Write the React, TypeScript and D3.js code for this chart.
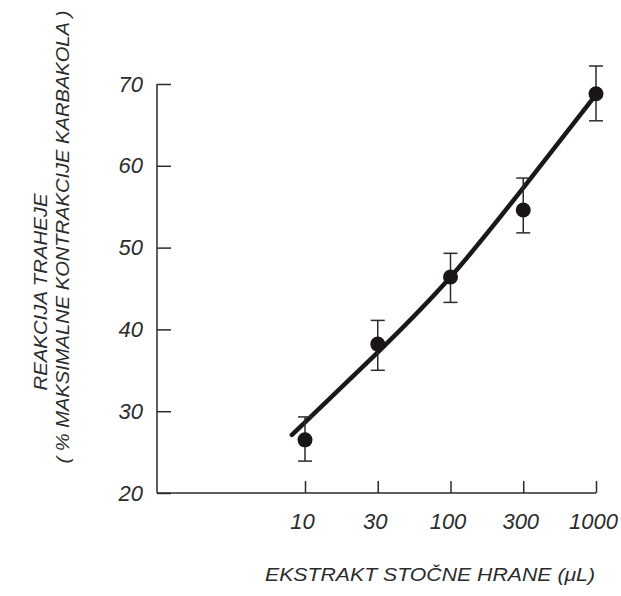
import React, { useEffect, useRef } from 'react';
import * as d3 from 'd3';

// doses on the (log-spaced) x axis, shown as evenly spaced categories
const doses = ['10', '30', '100', '300', '1000'];
const means = [26.5, 38.2, 46.4, 54.6, 68.8];
const errLow = [23.9, 35.0, 43.3, 51.8, 65.5];
const errHigh = [29.3, 41.1, 49.3, 58.5, 72.2];

// fitted curve, x given as position on the dose index
const fitIdx = [-0.18, 1, 2, 3, 4];
const fitVal = [27.1, 37.2, 46.4, 57.3, 68.7];

const yTicks = [20, 30, 40, 50, 60, 70];

const W = 621;
const H = 596;
const ink = '#2b2b2b';
const font = '"Liberation Sans", Arial, sans-serif';

const App = () => {
    const xAxisRef = useRef<SVGGElement>(null);
    const yAxisRef = useRef<SVGGElement>(null);

    const x = d3.scalePoint<string>().domain(doses).range([305, 596]);
    const xi = d3.scaleLinear().domain([0, doses.length - 1]).range([305, 596]);
    const y = d3.scaleLinear().domain([20, 70]).range([493, 84]);
    const axisLeft = 157;

    useEffect(() => {
        const gx = d3.select(xAxisRef.current);
        gx.selectAll('*').remove();
        gx.call(d3.axisBottom(x).tickSizeInner(-12).tickSizeOuter(0).tickPadding(20));
        gx.select('.domain').remove();
        gx.selectAll('.tick line').attr('stroke', ink).attr('stroke-width', 1.5);
        gx.selectAll('.tick text')
            .attr('font-family', font)
            .attr('font-style', 'italic')
            .attr('font-size', 22)
            .attr('fill', ink)
            .attr('dx', -3);

        const gy = d3.select(yAxisRef.current);
        gy.selectAll('*').remove();
        gy.call(d3.axisLeft(y).tickValues(yTicks).tickSizeInner(-14).tickSizeOuter(0).tickPadding(14));
        gy.select('.domain').remove();
        gy.selectAll('.tick line').attr('stroke', ink).attr('stroke-width', 1.5);
        gy.selectAll('.tick text')
            .attr('font-family', font)
            .attr('font-style', 'italic')
            .attr('font-size', 22)
            .attr('fill', ink);
    }, []);

    const fitLine = d3
        .line<number>()
        .x((_, i) => xi(fitIdx[i]))
        .y(d => y(d))
        .curve(d3.curveNatural);

    return (
        <svg width={W} height={H} style={{ position: 'absolute', left: 0, top: 0, background: '#fff' }}>
            {/* axes */}
            <line x1={axisLeft} x2={axisLeft} y1={y(70)} y2={y(20)} stroke={ink} strokeWidth={1.5} />
            <line x1={axisLeft} x2={x('1000')} y1={y(20)} y2={y(20)} stroke={ink} strokeWidth={1.5} />
            <g ref={xAxisRef} transform={`translate(0,${y(20)})`} />
            <g ref={yAxisRef} transform={`translate(${axisLeft},0)`} />

            {/* fitted curve */}
            <path d={fitLine(fitVal) || ''} fill="none" stroke="#1c1818" strokeWidth={4.5} strokeLinecap="round" />

            {/* error bars and points */}
            {doses.map((d, i) => {
                const cx = x(d) as number;
                return (
                    <g key={d}>
                        <line x1={cx} x2={cx} y1={y(errLow[i])} y2={y(errHigh[i])} stroke={ink} strokeWidth={1.5} />
                        <line x1={cx - 7} x2={cx + 7} y1={y(errLow[i])} y2={y(errLow[i])} stroke={ink} strokeWidth={1.5} />
                        <line x1={cx - 7} x2={cx + 7} y1={y(errHigh[i])} y2={y(errHigh[i])} stroke={ink} strokeWidth={1.5} />
                        <circle cx={cx} cy={y(means[i])} r={7.5} fill="#1a1616" />
                    </g>
                );
            })}

            {/* axis titles */}
            <text
                transform="translate(47,292) rotate(-90)"
                textAnchor="middle"
                fontFamily={font}
                fontStyle="italic"
                fontSize={19}
                fill={ink}
                textLength={197}
                lengthAdjust="spacingAndGlyphs"
            >
                REAKCIJA TRAHEJE
            </text>
            <text
                transform="translate(69,237) rotate(-90)"
                textAnchor="middle"
                fontFamily={font}
                fontStyle="italic"
                fontSize={19}
                fill={ink}
                textLength={453}
                lengthAdjust="spacingAndGlyphs"
            >
                ( % MAKSIMALNE KONTRAKCIJE KARBAKOLA )
            </text>
            <text
                x={430}
                y={581}
                textAnchor="middle"
                fontFamily={font}
                fontStyle="italic"
                fontSize={19}
                fill={ink}
                textLength={330}
                lengthAdjust="spacingAndGlyphs"
            >
                EKSTRAKT STOČNE HRANE (μL)
            </text>
        </svg>
    );
};

export default App;
